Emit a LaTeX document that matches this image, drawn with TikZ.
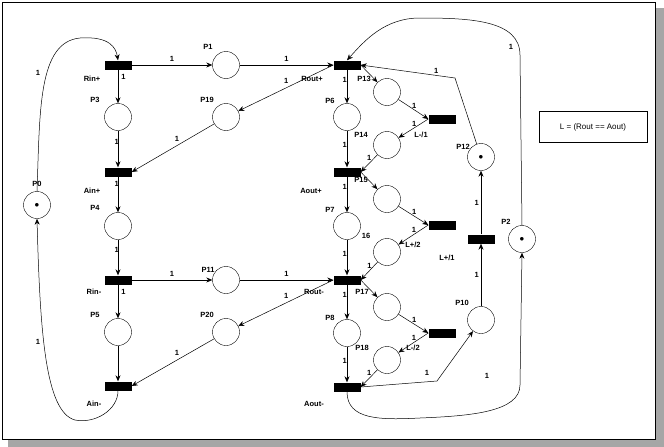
\documentclass[tikz,border=0pt]{standalone}
\usepackage{fontspec}
\setmainfont{Liberation Sans}
\usetikzlibrary{arrows.meta}
\begin{document}
\begin{tikzpicture}[x=1pt,y=-1pt,
  pl/.style={circle,draw,minimum size=27pt,inner sep=0pt},
  tk/.style={pl,label={[inner sep=0pt]center:\small$\bullet$}},
  tr/.style={rectangle,fill=black,minimum width=27pt,minimum height=9pt,inner sep=0pt},
  lb/.style={font=\fontsize{7.5}{8}\selectfont\bfseries,inner sep=0pt},
  ar/.style={draw,-{Stealth[length=6pt,width=5pt]},line width=0.5pt},
  every node/.append style={font=\fontsize{7.5}{8}\selectfont\bfseries}]
\useasboundingbox (0,0) rectangle (664,447);
\fill[gray!70] (656,8) rectangle (664,447);
\fill[gray!70] (8,440) rectangle (664,447);
\draw[line width=0.6pt] (2,2) rectangle (655,439);
% places
\node[tk] (P0) at (37,205) {};
\node[pl] (P1) at (226,65) {};
\node[pl] (P3) at (118,117) {};
\node[pl] (P19) at (226,117) {};
\node[pl] (P4) at (118,226) {};
\node[pl] (P11) at (226,280) {};
\node[pl] (P5) at (118,332) {};
\node[pl] (P20) at (226,332) {};
\node[pl] (P6) at (347,117) {};
\node[pl] (P13) at (387,92) {};
\node[pl] (P14) at (387,145) {};
\node[pl] (P15) at (387,199) {};
\node[pl] (P7) at (347,226) {};
\node[pl] (P16) at (387,252) {};
\node[pl] (P17) at (387,307) {};
\node[pl] (P8) at (347,333) {};
\node[pl] (P18) at (387,360) {};
\node[pl] (P10) at (481,320) {};
\node[tk] (P12) at (481,157) {};
\node[tk] (P2) at (522,239) {};
% transitions
\node[tr] (Rinp) at (118,65) {};
\node[tr] (Routp) at (347,65) {};
\node[tr] (Ainp) at (118,172) {};
\node[tr] (Rinm) at (118,280) {};
\node[tr] (Routm) at (347,280) {};
\node[tr] (Ainm) at (118,386) {};
\node[tr] (Aoutp) at (347,172) {};
\node[tr] (Aoutm) at (347,387) {};
\node[tr] (Lm1) at (442,119) {};
\node[tr] (Lp2) at (442,225) {};
\node[tr] (Lm2) at (442,333) {};
\node[tr] (Lp1) at (481,239) {};
% labels
\node[lb] at (37,184) {P0};
\node[lb] at (208,47) {P1};
\node[lb] at (95,100) {P3};
\node[lb] at (207,100) {P19};
\node[lb] at (95,208) {P4};
\node[lb] at (208,270) {P11};
\node[lb] at (95,315) {P5};
\node[lb] at (207,315) {P20};
\node[lb] at (330,101) {P6};
\node[lb] at (364,79) {P13};
\node[lb] at (361,135) {P14};
\node[lb] at (361,180) {P15};
\node[lb] at (330,210) {P7};
\node[lb] at (366,236) {16};
\node[lb] at (362,292) {P17};
\node[lb] at (330,318) {P8};
\node[lb] at (362,348) {P18};
\node[lb] at (462,303) {P10};
\node[lb] at (463,147) {P12};
\node[lb] at (506,222) {P2};
\node[lb] at (92,79) {Rin+};
\node[lb] at (92,191) {Ain+};
\node[lb] at (94,292) {Rin-};
\node[lb] at (94,404) {Ain-};
\node[lb] at (312,79) {Rout+};
\node[lb] at (311,191) {Aout+};
\node[lb] at (314,292) {Rout-};
\node[lb] at (314,404) {Aout-};
\node[lb] at (421,135) {L-/1};
\node[lb] at (413,245) {L+/2};
\node[lb] at (413,348) {L-/2};
\node[lb] at (447,258) {L+/1};
\node[draw,font=\fontsize{8}{9}\selectfont,minimum width=108pt,minimum height=31pt] (leg) at (593,127) {L = (Rout == Aout)};
% arcs
\draw[ar] (P0.north) .. controls (40,110) and (38,42) .. (80,38) .. controls (110,36) and (116,48) .. (Rinp.north);
\node[lb] at (38,73) {1};
\draw[ar] (Ainm.south) .. controls (118,410) and (95,424) .. (75,420) .. controls (45,412) and (40,330) .. (P0.south);
\node[lb] at (38,342) {1};
\draw[ar] (Rinp) -- node[lb,above=3pt]{1} (P1);
\draw[ar] (P1) -- node[lb,above=3pt,pos=0.5]{1} (Routp);
\draw[ar] (Rinp) -- node[lb,right=3pt,pos=0.2]{1} (P3);
\draw[ar] (P3) -- node[lb,left=-1pt,pos=0.3]{1} (Ainp);
\draw[ar] (Ainp) -- node[lb,left=-1pt,pos=0.2]{1} (P4);
\draw[ar] (P4) -- node[lb,left=-1pt,pos=0.3]{1} (Rinm);
\draw[ar] (Rinm) -- node[lb,above=3pt]{1} (P11);
\draw[ar] (P11) -- node[lb,above=3pt]{1} (Routm);
\draw[ar] (Rinm) -- node[lb,right=3pt,pos=0.2]{1} (P5);
\draw[ar] (P5) -- (Ainm);
\draw[ar] (Routp.west) -- node[lb,pos=0.45,above left=2pt]{1} (P19);
\draw[ar] (P19) -- node[lb,pos=0.45,above=4pt]{1} (Ainp.east);
\draw[ar] (Routm.west) -- node[lb,pos=0.45,above left=2pt]{1} (P20);
\draw[ar] (P20) -- node[lb,pos=0.45,above=4pt]{1} (Ainm.east);
% right column
\draw[ar] (Routp) -- node[lb,left=0pt,pos=0.3]{1} (P6);
\draw[ar] (Routp.east) -- (P13);
\draw[ar] (P13) -- node[lb,above right=0pt,pos=0.45]{1} (Lm1.west);
\draw[ar] (Lm1.west) -- node[lb,above left=0pt,pos=0.4]{1} (P14);
\draw[ar] (P6) -- node[lb,left=0pt,pos=0.4]{1} (Aoutp);
\draw[ar] (P14) -- node[lb,above left=0pt,pos=0.35]{1} (Aoutp.east);
\draw[ar] (Aoutp) -- node[lb,left=0pt,pos=0.3]{1} (P7);
\draw[ar] (Aoutp.east) -- (P15);
\draw[ar] (P15) -- node[lb,above right=0pt,pos=0.45]{1} (Lp2.west);
\draw[ar] (Lp2.west) -- node[lb,above left=0pt,pos=0.4]{1} (P16);
\draw[ar] (P7) -- node[lb,left=0pt,pos=0.4]{1} (Routm);
\draw[ar] (P16) -- node[lb,above left=0pt,pos=0.35]{1} (Routm.east);
\draw[ar] (Routm) -- node[lb,left=0pt,pos=0.3]{1} (P8);
\draw[ar] (Routm.east) -- (P17);
\draw[ar] (P17) -- node[lb,above right=0pt,pos=0.45]{1} (Lm2.west);
\draw[ar] (Lm2.west) -- node[lb,above left=0pt,pos=0.4]{1} (P18);
\draw[ar] (P8) -- node[lb,left=0pt,pos=0.4]{1} (Aoutm);
\draw[ar] (P18) -- node[lb,above left=0pt,pos=0.35]{1} (Aoutm.east);
\draw[ar] (Aoutm.east) -- (437,381) -- (P10);
\node[lb] at (427,373) {1};
\draw[ar] (P10) -- node[lb,left=2pt]{1} (Lp1);
\draw[ar] (Lp1) -- node[lb,left=2pt]{1} (P12);
\draw[ar] (P12) -- (455,78) -- node[lb,above=2pt,pos=0.2]{1} (Routp.east);
\draw[ar] (P2.north) -- (520,55) .. controls (520,20) and (470,18) .. (420,18) .. controls (385,18) and (365,40) .. (Routp.north);
\node[lb] at (511,47) {1};
\draw[ar] (Aoutm.south) .. controls (347,420) and (380,420) .. (420,418) .. controls (470,416) and (520,412) .. (520,385) -- (P2.south);
\node[lb] at (487,376) {1};
\end{tikzpicture}
\end{document}
